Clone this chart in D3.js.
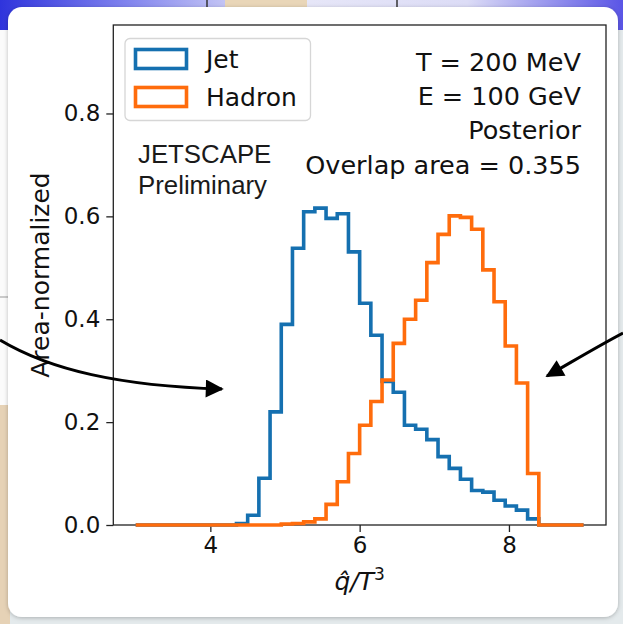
<!DOCTYPE html>
<html lang="en">
<head>
<meta charset="UTF-8">
<title>Jet vs Hadron qhat posterior</title>
<script src="https://d3js.org/d3.v7.min.js"></script>
<style>
  body { margin: 0; background: #e4eaec; }
  svg { display: block; }
</style>
</head>
<body>
<div id="my_dataviz"></div>
<script>
    // bin edges of the histogram (qhat/T^3)
    var qEdges = [3.00, 3.15, 3.30, 3.45, 3.60, 3.75, 3.90, 4.05, 4.20, 4.35,
                  4.50, 4.65, 4.80, 4.95, 5.10, 5.25, 5.40, 5.55, 5.70, 5.85,
                  6.00, 6.15, 6.30, 6.45, 6.60, 6.75, 6.90, 7.05, 7.20, 7.35,
                  7.50, 7.65, 7.80, 7.95, 8.10, 8.25, 8.40, 8.55, 8.70, 8.85, 9.00]

    // area-normalized counts
    var jet = [0, 0, 0, 0, 0, 0, 0, 0, 0, 0.003,
               0.019, 0.091, 0.220, 0.390, 0.538, 0.609, 0.616, 0.596, 0.605, 0.531,
               0.431, 0.369, 0.279, 0.258, 0.194, 0.186, 0.166, 0.133, 0.110, 0.089,
               0.067, 0.064, 0.048, 0.037, 0.029, 0.012, 0, 0, 0, 0]

    var hadron = [0, 0, 0, 0, 0, 0, 0, 0, 0, 0,
                  0, 0, 0, 0.002, 0.003, 0.006, 0.012, 0.040, 0.084, 0.139,
                  0.194, 0.240, 0.282, 0.353, 0.400, 0.437, 0.510, 0.565, 0.601, 0.598,
                  0.575, 0.496, 0.434, 0.348, 0.276, 0.100, 0, 0, 0, 0]

    var seriesNames = ["Jet", "Hadron"]
    var xTicks = [4, 6, 8]
    var yTicks = [0.0, 0.2, 0.4, 0.6, 0.8]
    var infoLines = ["T = 200 MeV", "E = 100 GeV", "Posterior", "Overlap area = 0.355"]
    var stampLines = ["JETSCAPE", "Preliminary"]

    var width = 623
    var height = 624
    var blue = "#1570b0"
    var orange = "#ff6c0c"

    var svg = d3.select("#my_dataviz")
      .append("svg")
        .attr("width", width)
        .attr("height", height)

    // ---- screenshot surroundings ----
    var defs = svg.append("defs")
    var grad = defs.append("linearGradient").attr("id", "bgGrad")
      .attr("x1", "0").attr("x2", "1").attr("y1", "0").attr("y2", "0")
    grad.append("stop").attr("offset", "0").attr("stop-color", "#2f34dc")
    grad.append("stop").attr("offset", "0.2").attr("stop-color", "#7f82ee")
    grad.append("stop").attr("offset", "0.45").attr("stop-color", "#e8e8f8")
    grad.append("stop").attr("offset", "0.75").attr("stop-color", "#dcdcf6")
    grad.append("stop").attr("offset", "1").attr("stop-color", "#5a55e6")
    var shadow = defs.append("filter").attr("id", "shadow")
      .attr("x", "-5%").attr("y", "-5%").attr("width", "110%").attr("height", "110%")
    shadow.append("feDropShadow").attr("dx", 0).attr("dy", 1).attr("stdDeviation", 2)
      .attr("flood-color", "#000").attr("flood-opacity", 0.25)

    svg.append("rect").attr("x", 0).attr("y", 0).attr("width", width).attr("height", 30)
      .attr("fill", "url(#bgGrad)")
    svg.append("rect").attr("x", 225).attr("y", 0).attr("width", 82).attr("height", 8).attr("fill", "#e9d6b8")
    svg.append("line").attr("x1", 207).attr("x2", 207).attr("y1", 0).attr("y2", 8).attr("stroke", "#333").attr("stroke-width", 1.5)
    svg.append("line").attr("x1", 397).attr("x2", 397).attr("y1", 0).attr("y2", 8).attr("stroke", "#333").attr("stroke-width", 1.5)
    svg.append("rect").attr("x", 0).attr("y", 30).attr("width", 10).attr("height", 375).attr("fill", "#fbfbfb")
    svg.append("line").attr("x1", 0).attr("x2", 10).attr("y1", 297).attr("y2", 297).attr("stroke", "#999")
    svg.append("rect").attr("x", 0).attr("y", 405).attr("width", 10).attr("height", 219).attr("fill", "#e6d2b6")

    // white card
    svg.append("rect")
      .attr("x", 8).attr("y", 7)
      .attr("width", 610).attr("height", 610)
      .attr("rx", 14)
      .attr("fill", "#ffffff")
      .attr("filter", "url(#shadow)")

    // ---- chart ----
    var x = d3.scaleLinear().domain([2.7, 9.3]).range([113.3, 606])
    var y = d3.scaleLinear().domain([0, 0.972]).range([525, 25])

    // frame
    svg.append("rect")
      .attr("x", x.range()[0]).attr("y", y.range()[1])
      .attr("width", x.range()[1] - x.range()[0])
      .attr("height", y.range()[0] - y.range()[1])
      .attr("fill", "none").attr("stroke", "#222").attr("stroke-width", 1.3)

    var xAxis = svg.append("g")
      .attr("transform", "translate(0," + y.range()[0] + ")")
      .call(d3.axisBottom(x).tickValues(xTicks).tickSize(7).tickPadding(5).tickFormat(d3.format("d")))
    var yAxis = svg.append("g")
      .attr("transform", "translate(" + x.range()[0] + ",0)")
      .call(d3.axisLeft(y).tickValues(yTicks).tickSize(7).tickPadding(6).tickFormat(d3.format(".1f")))
    ;[xAxis, yAxis].forEach(function(g){
      g.select(".domain").remove()
      g.selectAll(".tick line").attr("stroke", "#222").attr("stroke-width", 1.3)
      g.selectAll(".tick text")
        .attr("fill", "#111")
        .style("font-family", "DejaVu Sans")
        .style("font-size", "23px")
    })

    // axis labels
    svg.append("text")
      .attr("transform", "translate(49," + ((y.range()[0] + y.range()[1]) / 2) + ") rotate(-90)")
      .attr("text-anchor", "middle")
      .style("font-family", "DejaVu Sans").style("font-size", "25px").attr("fill", "#111")
      .text("Area-normalized")
    var xl = svg.append("text")
      .attr("x", (x.range()[0] + x.range()[1]) / 2)
      .attr("y", 590)
      .attr("text-anchor", "middle")
      .style("font-family", "DejaVu Sans").style("font-style", "italic").style("font-size", "25px").attr("fill", "#111")
    xl.append("tspan").text("q\u0302/T")
    xl.append("tspan").attr("dy", -10).style("font-size", "17px").style("font-style", "normal").text("3")

    // step histograms
    function stepPoints(vals) {
      var pts = [[qEdges[0], 0]]
      vals.forEach(function(v, i){
        pts.push([qEdges[i], v])
        pts.push([qEdges[i + 1], v])
      })
      pts.push([qEdges[qEdges.length - 1], 0])
      return pts
    }
    var line = d3.line()
      .x(function(d){ return x(d[0]) })
      .y(function(d){ return y(d[1]) })

    var series = [jet, hadron]
    var colors = [blue, orange]
    series.forEach(function(vals, k){
      svg.append("path")
        .datum(stepPoints(vals))
        .attr("d", line)
        .attr("fill", "none")
        .attr("stroke", colors[k])
        .attr("stroke-width", 3.6)
        .attr("stroke-linejoin", "miter")
    })

    // legend
    var legend = svg.append("g")
    legend.append("rect")
      .attr("x", 125).attr("y", 38.5).attr("width", 185.5).attr("height", 82)
      .attr("rx", 5)
      .attr("fill", "#fff").attr("fill-opacity", 0.85)
      .attr("stroke", "#d6d6d6").attr("stroke-width", 1.3)
    seriesNames.forEach(function(name, k){
      var ly = 49.5 + k * 38
      legend.append("rect")
        .attr("x", 135.5).attr("y", ly).attr("width", 51).attr("height", 19)
        .attr("fill", "none").attr("stroke", colors[k]).attr("stroke-width", 3.6)
      legend.append("text")
        .attr("x", 206).attr("y", ly + 18.5)
        .style("font-family", "DejaVu Sans").style("font-size", "25px").attr("fill", "#111")
        .text(name)
    })

    // run info, right aligned
    svg.append("g").selectAll("text")
      .data(infoLines).enter()
      .append("text")
        .attr("x", 581)
        .attr("y", function(d, i){ return 70.5 + i * 34.4 })
        .attr("text-anchor", "end")
        .style("font-family", "DejaVu Sans").style("font-size", "25.5px").attr("fill", "#111")
        .text(function(d){ return d })

    // JETSCAPE stamp
    svg.append("g").selectAll("text")
      .data(stampLines).enter()
      .append("text")
        .attr("x", 138)
        .attr("y", function(d, i){ return 163.3 + i * 30.5 })
        .style("font-family", "Liberation Sans").style("font-size", "25.8px").attr("fill", "#1a1a1a")
        .text(function(d){ return d })

    // annotation arrows from the slide
    defs.append("marker").attr("id", "head")
      .attr("viewBox", "0 0 10 10").attr("refX", 9).attr("refY", 5)
      .attr("markerWidth", 7).attr("markerHeight", 6).attr("markerUnits", "strokeWidth")
      .attr("orient", "auto")
      .append("path").attr("d", "M0,0 L10,5 L0,10 Z").attr("fill", "#000")
    svg.append("path")
      .attr("d", "M0,340 C50,370 120,386 222,389")
      .attr("fill", "none").attr("stroke", "#000").attr("stroke-width", 3)
      .attr("marker-end", "url(#head)")
    svg.append("path")
      .attr("d", "M623,333 C600,345 575,360 547,376")
      .attr("fill", "none").attr("stroke", "#000").attr("stroke-width", 3)
      .attr("marker-end", "url(#head)")
</script>
</body>
</html>
